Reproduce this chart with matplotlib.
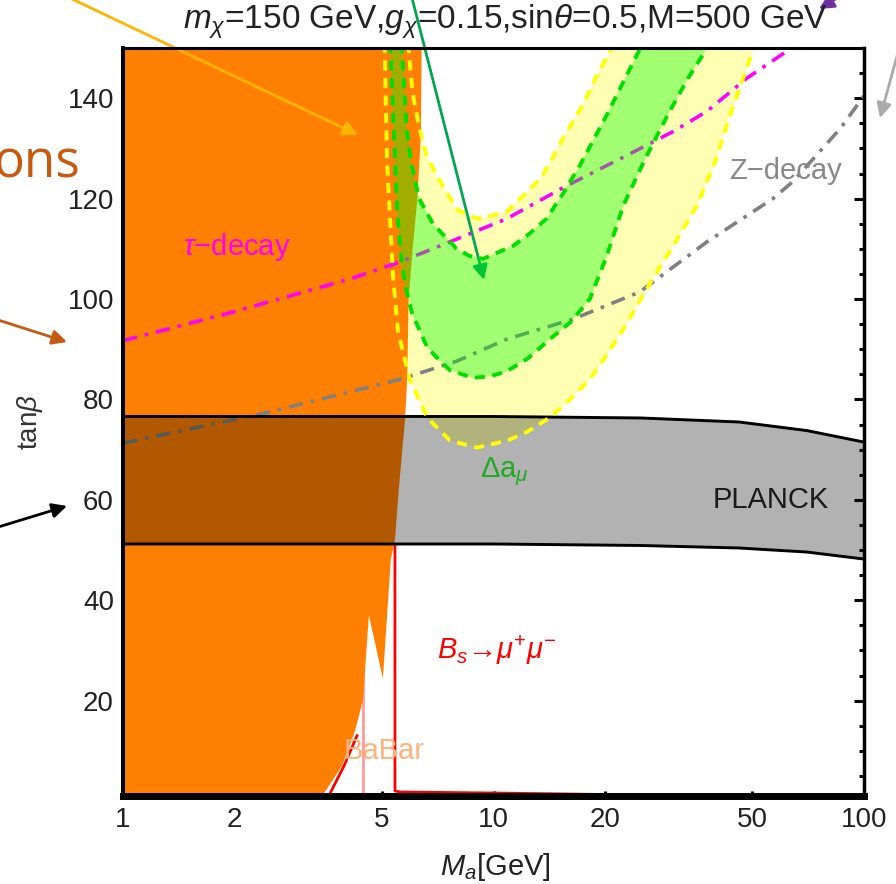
import matplotlib
matplotlib.use('Agg')
import matplotlib.pyplot as plt
from matplotlib.ticker import FixedLocator, NullLocator, MultipleLocator

plt.rcParams['font.family'] = ['Liberation Sans', 'DejaVu Sans']
plt.rcParams['mathtext.fontset'] = 'custom'
plt.rcParams['mathtext.rm'] = 'Liberation Sans'
plt.rcParams['mathtext.it'] = 'Liberation Sans:italic'
plt.rcParams['mathtext.bf'] = 'Liberation Sans:bold'

# --- data (M_a in GeV, tan beta) ---
# excluded (orange) region, right-hand boundary
orange_x = [1, 3.45, 3.9, 4.23, 4.44, 4.61, 5.03, 5.28, 5.42, 5.55, 5.77, 5.85, 5.9, 6.05, 6.23, 6.37, 6.4, 1]
orange_t = [1, 1, 7, 14, 20, 37, 24.4, 48, 52, 62, 76, 84, 100, 110, 120, 133, 151, 151]

# Delta a_mu bands
yel_out_x = [5.08, 5.16, 5.35, 5.52, 5.95, 6.62, 7.63, 9.03, 10.9, 12.3, 14.2, 16.0, 18.2, 20.2, 22.4,
             26.9, 30.8, 35.4, 39.5, 43.5, 51.0]
yel_out_t = [151, 127.4, 105, 93.7, 83.8, 76.4, 71.8, 70.4, 71.8, 73.5, 76.4, 79.8, 84, 88.8, 94,
             104, 111, 118.6, 127, 136.6, 151]
yel_in_x = [5.88, 6.05, 6.33, 6.6, 7.17, 7.95, 8.5, 9.18, 10.86, 12.0, 13.4, 14.4, 15.4, 17.4, 19.0, 21.2]
yel_in_t = [151, 141, 133.6, 128.5, 123.5, 118, 116.6, 116, 117.4, 120.5, 124, 128, 132, 138.6, 144.5, 151]
grn_out_x = [5.26, 5.42, 5.5, 5.65, 5.8, 6.03, 6.62, 7.1, 7.63, 8.8, 9.8, 10.86, 12.4, 14.2, 16.2, 18.2,
             20.2, 22.4, 25.5, 29.4, 33.5, 38.5]
grn_out_t = [151, 127.4, 117, 107.4, 102, 97.1, 90.4, 88, 85.8, 84.3, 84.6, 85.6, 88.2, 92, 95.5, 100,
             108.5, 118.6, 127.5, 136.4, 144, 151]
grn_in_x = [5.65, 5.83, 6.0, 6.3, 6.86, 7.95, 8.6, 9.37, 11.3, 12.5, 13.9, 15.4, 17.1, 20.2, 22.5, 25.3]
grn_in_t = [151, 134, 127, 120, 115, 110, 108.6, 108, 110.6, 113, 116, 121, 126.6, 136.6, 143.5, 151]

# tau-decay and Z-decay limits
tau_x = [1.0, 1.98, 4.10, 5.6, 7.18, 10.86, 15.8, 22.9, 30.6, 37.7, 48.3, 62.0, 64.5]
tau_t = [91.7, 97.4, 104, 107.4, 110.6, 116, 122.6, 128.6, 133.4, 137.4, 144, 149.4, 151]
zdec_x = [1.0, 2.45, 5.6, 7.95, 10.86, 16.4, 24.8, 37.7, 56.8, 64.3, 86.4, 100]
zdec_t = [71.3, 77.4, 84, 87.6, 92, 96, 101.4, 111.4, 120, 123.4, 134, 140.5]

# PLANCK band
planck_x = [1, 10, 25, 46, 70, 100]
planck_hi = [76.6, 76.6, 76.3, 75.5, 73.8, 71.5]
planck_lo = [51.2, 51.2, 50.9, 50.4, 49.6, 48.2]

# B_s -> mu mu and BaBar
bs_x = [5.42, 5.42, 5.6, 10, 20, 30]
bs_t = [51, 2.0, 1.8, 1.6, 1.3, 1.0]
bs2_x = [3.62, 3.95, 4.28]
bs2_t = [1.5, 7, 13]
babar_x = [4.44, 4.44]
babar_t = [1, 40]

fig = plt.figure(figsize=(8.96, 8.84), dpi=100)
ax = fig.add_axes([123/896, 1-796/884, 741/896, 748/884])
ax.set_xscale('log')
ax.set_xlim(1, 100)
ax.set_ylim(1, 150)

ax.fill(yel_out_x + yel_in_x[::-1], yel_out_t + yel_in_t[::-1], color='#FFFFB3', lw=0, zorder=1)
ax.plot(babar_x, babar_t, color='#FF9A9A', lw=2, zorder=1.5)
ax.plot(bs2_x, bs2_t, color='red', lw=2, zorder=1.5)
ax.fill(orange_x, orange_t, color='#FF8000', lw=0, zorder=2)
ax.plot(tau_x, tau_t, color='#FF00FF', lw=2.6, dashes=(4, 2.2, 1, 2.2), zorder=3)
ax.plot(zdec_x, zdec_t, color='#808080', lw=2.6, dashes=(4, 2.2, 1, 2.2), zorder=3)
ax.fill(grn_out_x + grn_in_x[::-1], grn_out_t + grn_in_t[::-1], color=(0, 1, 0), alpha=0.37, lw=0, zorder=4)
ax.plot(bs_x, bs_t, color='red', lw=2, zorder=4.5)

ax.fill_between(planck_x, planck_lo, planck_hi, color='black', alpha=0.3, lw=0, zorder=5)
ax.plot(planck_x, planck_hi, color='black', lw=2.1, zorder=5.1)
ax.plot(planck_x, planck_lo, color='black', lw=2.1, zorder=5.1)

for xs, ts, c in [(yel_out_x, yel_out_t, '#FFFF00'), (yel_in_x, yel_in_t, '#FFFF00'),
                  (grn_out_x, grn_out_t, '#00E000'), (grn_in_x, grn_in_t, '#00E000')]:
    ax.plot(xs, ts, color=c, lw=2.8, dashes=(2.6, 1.9), zorder=6)

fs = 21
ax.text(2.03, 110.4, r'$\tau$−decay', color='#FF00FF', fontsize=fs, ha='center', va='center', zorder=7)
ax.text(61.3, 125.4, 'Z−decay', color='#888888', fontsize=fs, ha='center', va='center', zorder=7)
ax.text(10.7, 65.6, r'Δa$_{\mu}$', color='#22AA22', fontsize=fs, ha='center', va='center', zorder=7)
ax.text(56.1, 60, 'PLANCK', color='#1a1a1a', fontsize=fs, ha='center', va='center', zorder=7)
ax.text(10.2, 30, r'$B_s$→$\mu^{+}\mu^{-}$', color='red', fontsize=fs, ha='center', va='center', zorder=7)
ax.text(5.06, 10, 'BaBar', color='#FFB27A', fontsize=fs, ha='center', va='center', zorder=7)

ax.xaxis.set_major_locator(FixedLocator([1, 2, 5, 10, 20, 50, 100]))
ax.xaxis.set_minor_locator(NullLocator())
ax.set_xticklabels(['1', '2', '5', '10', '20', '50', '100'])
ax.yaxis.set_major_locator(FixedLocator([20, 40, 60, 80, 100, 120, 140]))
ax.yaxis.set_minor_locator(MultipleLocator(5))
ax.tick_params(axis='y', which='major', direction='in', length=7, width=2.2, right=True,
               labelsize=20, pad=6.5, labelcolor='#222222')
ax.tick_params(axis='y', which='minor', direction='in', length=3.6, width=2.2, right=True)
ax.tick_params(axis='x', which='major', direction='in', length=3.5, width=2.2, labelsize=20, pad=8,
               labelcolor='#222222')
for k, w in [('left', 2.9), ('right', 2.5), ('top', 2.2), ('bottom', 5)]:
    ax.spines[k].set_linewidth(w)
    ax.spines[k].set_zorder(8)

ax.set_ylabel(r'tan$\beta$', fontsize=20, color='#333333')
ax.yaxis.set_label_coords(-0.105, 0.5)
ax.set_xlabel(r'$M_a$[GeV]', fontsize=fs, color='#222222')
ax.xaxis.set_label_coords(0.502, -0.074)

fig.text(505/896, 1-22/884, r'$m_\chi$=150 GeV,$g_\chi$=0.15,sin$\theta$=0.5,M=500 GeV',
         fontsize=24, ha='center', va='center', color='#222222')

# pieces of the surrounding slide
fig.text(80, 884-178, 'ons', transform=None, fontsize=37, color='#C55A11',
         family='Open Sans', ha='right', va='baseline')
arrows = [((70, 884+2), (358, 884-135), '#FFB400'),
          ((412, 884+2), (484, 884-280), '#00A651'),
          ((875, 884+25), (819, 884-9), '#7030A0'),
          ((900, 884-45), (880, 884-118), '#AAAAAA'),
          ((-5, 884-319), (67, 884-342), '#C55A11'),
          ((-5, 884-528), (67, 884-506), '#000000')]
for start, tip, c in arrows:
    ax.annotate('', xy=tip, xytext=start, xycoords='figure pixels', textcoords='figure pixels',
                annotation_clip=False,
                arrowprops=dict(arrowstyle='-|>', color=c, lw=2, mutation_scale=22, shrinkA=0, shrinkB=0))

fig.savefig('out.png', dpi=100)
